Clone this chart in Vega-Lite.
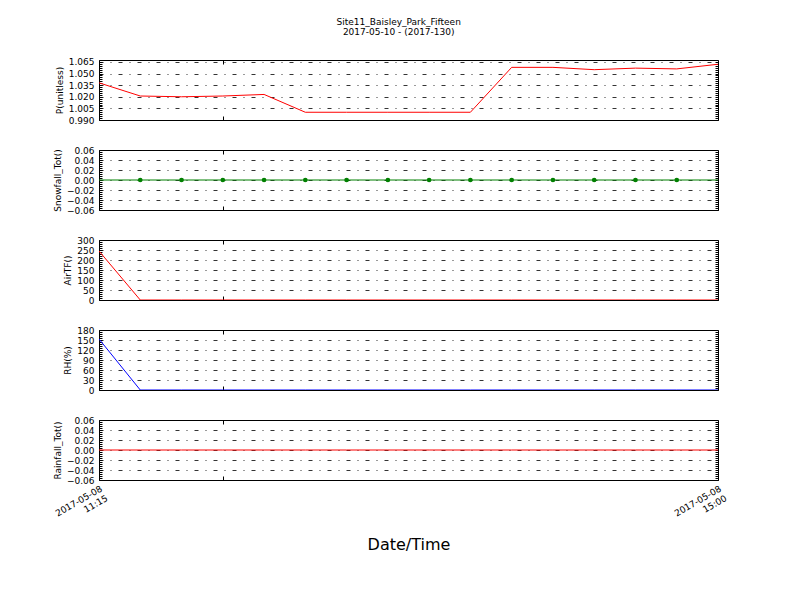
{
  "$schema": "https://vega.github.io/schema/vega-lite/v6.json",
  "padding": {"left": 52, "top": 18, "right": 5, "bottom": 5},
  "title": {"text": "Site11_Baisley_Park_Fifteen", "subtitle": "2017-05-10 - (2017-130)", "fontSize": 9, "subtitleFontSize": 9, "font": "DejaVu Sans", "subtitleFont": "DejaVu Sans", "fontWeight": "normal", "color": "black", "subtitleColor": "black", "anchor": "middle", "subtitlePadding": 1, "offset": 20, "dx": 8},
  "data": {"values": [
    {"t": "2017-05-08T11:15:00", "P": 1.038, "Snow": 0, "AirTF": 245, "RH": 153, "Rain": 0},
    {"t": "2017-05-08T11:30:00", "P": 1.021, "Snow": 0, "AirTF": 0, "RH": 0, "Rain": 0},
    {"t": "2017-05-08T11:45:00", "P": 1.020, "Snow": 0, "AirTF": 0, "RH": 0, "Rain": 0},
    {"t": "2017-05-08T12:00:00", "P": 1.021, "Snow": 0, "AirTF": 0, "RH": 0, "Rain": 0},
    {"t": "2017-05-08T12:15:00", "P": 1.023, "Snow": 0, "AirTF": 0, "RH": 0, "Rain": 0},
    {"t": "2017-05-08T12:30:00", "P": 1.000, "Snow": 0, "AirTF": 0, "RH": 0, "Rain": 0},
    {"t": "2017-05-08T12:45:00", "P": 1.000, "Snow": 0, "AirTF": 0, "RH": 0, "Rain": 0},
    {"t": "2017-05-08T13:00:00", "P": 1.000, "Snow": 0, "AirTF": 0, "RH": 0, "Rain": 0},
    {"t": "2017-05-08T13:15:00", "P": 1.000, "Snow": 0, "AirTF": 0, "RH": 0, "Rain": 0},
    {"t": "2017-05-08T13:30:00", "P": 1.000, "Snow": 0, "AirTF": 0, "RH": 0, "Rain": 0},
    {"t": "2017-05-08T13:45:00", "P": 1.058, "Snow": 0, "AirTF": 0, "RH": 0, "Rain": 0},
    {"t": "2017-05-08T14:00:00", "P": 1.058, "Snow": 0, "AirTF": 0, "RH": 0, "Rain": 0},
    {"t": "2017-05-08T14:15:00", "P": 1.055, "Snow": 0, "AirTF": 0, "RH": 0, "Rain": 0},
    {"t": "2017-05-08T14:30:00", "P": 1.057, "Snow": 0, "AirTF": 0, "RH": 0, "Rain": 0},
    {"t": "2017-05-08T14:45:00", "P": 1.056, "Snow": 0, "AirTF": 0, "RH": 0, "Rain": 0},
    {"t": "2017-05-08T15:00:00", "P": 1.062, "Snow": 0, "AirTF": 0, "RH": 0, "Rain": 0}
  ]},
  "config": {
    "view": {"stroke": "black", "strokeWidth": 1},
    "axis": {"labelFont": "DejaVu Sans", "titleFont": "DejaVu Sans", "labelFontSize": 9, "titleFontSize": 9, "titleFontWeight": "normal", "labelColor": "black", "titleColor": "black", "domain": false, "tickColor": "black", "tickWidth": 1, "gridColor": "black", "gridDash": [4, 7, 1, 7], "gridWidth": 0.8}
  },
  "spacing": 30,
  "bounds": "flush",
  "vconcat": [
    {
      "width": 619, "height": 60,
      "layer": [
        {"mark": {"type": "line", "color": "#ff0000", "strokeWidth": 1, "clip": true},
         "encoding": {
           "x": {"field": "t", "type": "temporal", "scale": {"domain": [{"year": 2017, "month": 5, "date": 8, "hours": 11, "minutes": 15}, {"year": 2017, "month": 5, "date": 8, "hours": 15, "minutes": 0}]},
                 "axis": {"orient": "bottom", "labels": false, "title": null, "grid": false, "tickSize": -4, "values": [{"year": 2017, "month": 5, "date": 8, "hours": 11, "minutes": 15}, {"year": 2017, "month": 5, "date": 8, "hours": 12, "minutes": 0}, {"year": 2017, "month": 5, "date": 8, "hours": 15, "minutes": 0}]}},
           "y": {"field": "P", "type": "quantitative", "scale": {"domain": [0.99, 1.0675], "nice": false, "zero": false},
                 "axis": {"title": "P(unitless)", "tickSize": -3, "labelPadding": 8, "titlePadding": 4,
                          "values": [0.99,0.9925,0.995,0.9975,1.0,1.0025,1.005,1.0075,1.01,1.0125,1.015,1.0175,1.02,1.0225,1.025,1.0275,1.03,1.0325,1.035,1.0375,1.04,1.0425,1.045,1.0475,1.05,1.0525,1.055,1.0575,1.06,1.0625,1.065,1.0675],
                          "labelExpr": "abs((datum.value-0.99)/0.015 - round((datum.value-0.99)/0.015)) < 0.001 ? format(datum.value, '.3f') : ''",
                          "gridOpacity": {"condition": {"test": "abs((datum.value-0.99)/0.015 - round((datum.value-0.99)/0.015)) < 0.001", "value": 1}, "value": 0}}}
         }},
        {"mark": {"type": "line", "strokeOpacity": 0},
         "encoding": {
           "x": {"field": "t", "type": "temporal", "axis": {"orient": "top", "labels": false, "title": null, "grid": false, "tickSize": -4, "values": [{"year": 2017, "month": 5, "date": 8, "hours": 12, "minutes": 0}]}},
           "y": {"field": "P", "type": "quantitative", "axis": {"orient": "right", "labels": false, "title": null, "grid": false, "tickSize": -3,
                 "values": [0.99,0.9925,0.995,0.9975,1.0,1.0025,1.005,1.0075,1.01,1.0125,1.015,1.0175,1.02,1.0225,1.025,1.0275,1.03,1.0325,1.035,1.0375,1.04,1.0425,1.045,1.0475,1.05,1.0525,1.055,1.0575,1.06,1.0625,1.065,1.0675]}}
         }}
      ],
      "resolve": {"axis": {"x": "independent", "y": "independent"}}
    },
    {
      "width": 619, "height": 60,
      "layer": [
        {"mark": {"type": "line", "color": "#008000", "strokeWidth": 1, "clip": true},
         "encoding": {
           "x": {"field": "t", "type": "temporal", "scale": {"domain": [{"year": 2017, "month": 5, "date": 8, "hours": 11, "minutes": 15}, {"year": 2017, "month": 5, "date": 8, "hours": 15, "minutes": 0}]},
                 "axis": {"orient": "bottom", "labels": false, "title": null, "grid": false, "tickSize": -4, "values": [{"year": 2017, "month": 5, "date": 8, "hours": 11, "minutes": 15}, {"year": 2017, "month": 5, "date": 8, "hours": 12, "minutes": 0}, {"year": 2017, "month": 5, "date": 8, "hours": 15, "minutes": 0}]}},
           "y": {"field": "Snow", "type": "quantitative", "scale": {"domain": [-0.06, 0.06], "nice": false, "zero": false},
                 "axis": {"title": "Snowfall_Tot()", "tickSize": -3, "labelPadding": 8, "titlePadding": 4,
                          "values": [-0.06,-0.056,-0.052,-0.048,-0.044,-0.04,-0.036,-0.032,-0.028,-0.024,-0.02,-0.016,-0.012,-0.008,-0.004,0,0.004,0.008,0.012,0.016,0.02,0.024,0.028,0.032,0.036,0.04,0.044,0.048,0.052,0.056,0.06],
                          "labelExpr": "abs(datum.value/0.02 - round(datum.value/0.02)) < 0.001 ? format(datum.value, '.2f') : ''",
                          "gridOpacity": {"condition": {"test": "abs(datum.value/0.02 - round(datum.value/0.02)) < 0.001", "value": 1}, "value": 0}}}
         }},
        {"transform": [{"filter": {"field": "t", "range": [{"year": 2017, "month": 5, "date": 8, "hours": 11, "minutes": 20}, {"year": 2017, "month": 5, "date": 8, "hours": 14, "minutes": 55}]}}],
         "mark": {"type": "point", "filled": true, "color": "#008000", "size": 22, "opacity": 1},
         "encoding": {
           "x": {"field": "t", "type": "temporal", "axis": {"orient": "top", "labels": false, "title": null, "grid": false, "tickSize": -4, "values": [{"year": 2017, "month": 5, "date": 8, "hours": 12, "minutes": 0}]}},
           "y": {"field": "Snow", "type": "quantitative", "axis": {"orient": "right", "labels": false, "title": null, "grid": false, "tickSize": -3,
                 "values": [-0.06,-0.056,-0.052,-0.048,-0.044,-0.04,-0.036,-0.032,-0.028,-0.024,-0.02,-0.016,-0.012,-0.008,-0.004,0,0.004,0.008,0.012,0.016,0.02,0.024,0.028,0.032,0.036,0.04,0.044,0.048,0.052,0.056,0.06]}}
         }}
      ],
      "resolve": {"axis": {"x": "independent", "y": "independent"}}
    },
    {
      "width": 619, "height": 60,
      "layer": [
        {"mark": {"type": "line", "color": "#ff0000", "strokeWidth": 1, "clip": true},
         "encoding": {
           "x": {"field": "t", "type": "temporal", "scale": {"domain": [{"year": 2017, "month": 5, "date": 8, "hours": 11, "minutes": 15}, {"year": 2017, "month": 5, "date": 8, "hours": 15, "minutes": 0}]},
                 "axis": {"orient": "bottom", "labels": false, "title": null, "grid": false, "tickSize": -4, "values": [{"year": 2017, "month": 5, "date": 8, "hours": 11, "minutes": 15}, {"year": 2017, "month": 5, "date": 8, "hours": 12, "minutes": 0}, {"year": 2017, "month": 5, "date": 8, "hours": 15, "minutes": 0}]}},
           "y": {"field": "AirTF", "type": "quantitative", "scale": {"domain": [0, 300], "nice": false},
                 "axis": {"title": "AirTF()", "tickSize": -3, "labelPadding": 8, "titlePadding": 4,
                          "values": [0,10,20,30,40,50,60,70,80,90,100,110,120,130,140,150,160,170,180,190,200,210,220,230,240,250,260,270,280,290,300],
                          "labelExpr": "datum.value % 50 == 0 ? format(datum.value, 'd') : ''",
                          "gridOpacity": {"condition": {"test": "datum.value % 50 == 0", "value": 1}, "value": 0}}}
         }},
        {"mark": {"type": "line", "strokeOpacity": 0},
         "encoding": {
           "x": {"field": "t", "type": "temporal", "axis": {"orient": "top", "labels": false, "title": null, "grid": false, "tickSize": -4, "values": [{"year": 2017, "month": 5, "date": 8, "hours": 12, "minutes": 0}]}},
           "y": {"field": "AirTF", "type": "quantitative", "axis": {"orient": "right", "labels": false, "title": null, "grid": false, "tickSize": -3,
                 "values": [0,10,20,30,40,50,60,70,80,90,100,110,120,130,140,150,160,170,180,190,200,210,220,230,240,250,260,270,280,290,300]}}
         }}
      ],
      "resolve": {"axis": {"x": "independent", "y": "independent"}}
    },
    {
      "width": 619, "height": 60,
      "layer": [
        {"mark": {"type": "line", "color": "#0000ff", "strokeWidth": 1, "clip": true},
         "encoding": {
           "x": {"field": "t", "type": "temporal", "scale": {"domain": [{"year": 2017, "month": 5, "date": 8, "hours": 11, "minutes": 15}, {"year": 2017, "month": 5, "date": 8, "hours": 15, "minutes": 0}]},
                 "axis": {"orient": "bottom", "labels": false, "title": null, "grid": false, "tickSize": -4, "values": [{"year": 2017, "month": 5, "date": 8, "hours": 11, "minutes": 15}, {"year": 2017, "month": 5, "date": 8, "hours": 12, "minutes": 0}, {"year": 2017, "month": 5, "date": 8, "hours": 15, "minutes": 0}]}},
           "y": {"field": "RH", "type": "quantitative", "scale": {"domain": [0, 180], "nice": false},
                 "axis": {"title": "RH(%)", "tickSize": -3, "labelPadding": 8, "titlePadding": 4,
                          "values": [0,6,12,18,24,30,36,42,48,54,60,66,72,78,84,90,96,102,108,114,120,126,132,138,144,150,156,162,168,174,180],
                          "labelExpr": "datum.value % 30 == 0 ? format(datum.value, 'd') : ''",
                          "gridOpacity": {"condition": {"test": "datum.value % 30 == 0", "value": 1}, "value": 0}}}
         }},
        {"mark": {"type": "line", "strokeOpacity": 0},
         "encoding": {
           "x": {"field": "t", "type": "temporal", "axis": {"orient": "top", "labels": false, "title": null, "grid": false, "tickSize": -4, "values": [{"year": 2017, "month": 5, "date": 8, "hours": 12, "minutes": 0}]}},
           "y": {"field": "RH", "type": "quantitative", "axis": {"orient": "right", "labels": false, "title": null, "grid": false, "tickSize": -3,
                 "values": [0,6,12,18,24,30,36,42,48,54,60,66,72,78,84,90,96,102,108,114,120,126,132,138,144,150,156,162,168,174,180]}}
         }}
      ],
      "resolve": {"axis": {"x": "independent", "y": "independent"}}
    },
    {
      "width": 619, "height": 60,
      "layer": [
        {"mark": {"type": "line", "color": "#ff0000", "strokeWidth": 1, "clip": true},
         "encoding": {
           "x": {"field": "t", "type": "temporal", "scale": {"domain": [{"year": 2017, "month": 5, "date": 8, "hours": 11, "minutes": 15}, {"year": 2017, "month": 5, "date": 8, "hours": 15, "minutes": 0}]},
                 "axis": {"orient": "bottom", "title": "Date/Time", "titleFontSize": 16, "titlePadding": 9, "grid": false, "tickSize": -4, "labelPadding": 8,
                          "labelAngle": -30, "labelAlign": "right", "labelBaseline": "top",
                          "labelExpr": "hours(datum.value) == 12 ? '' : [timeFormat(datum.value, '%Y-%m-%d'), timeFormat(datum.value, '%H:%M')]",
                          "values": [{"year": 2017, "month": 5, "date": 8, "hours": 11, "minutes": 15}, {"year": 2017, "month": 5, "date": 8, "hours": 12, "minutes": 0}, {"year": 2017, "month": 5, "date": 8, "hours": 15, "minutes": 0}]}},
           "y": {"field": "Rain", "type": "quantitative", "scale": {"domain": [-0.06, 0.06], "nice": false, "zero": false},
                 "axis": {"title": "Rainfall_Tot()", "tickSize": -3, "labelPadding": 8, "titlePadding": 4,
                          "values": [-0.06,-0.056,-0.052,-0.048,-0.044,-0.04,-0.036,-0.032,-0.028,-0.024,-0.02,-0.016,-0.012,-0.008,-0.004,0,0.004,0.008,0.012,0.016,0.02,0.024,0.028,0.032,0.036,0.04,0.044,0.048,0.052,0.056,0.06],
                          "labelExpr": "abs(datum.value/0.02 - round(datum.value/0.02)) < 0.001 ? format(datum.value, '.2f') : ''",
                          "gridOpacity": {"condition": {"test": "abs(datum.value/0.02 - round(datum.value/0.02)) < 0.001", "value": 1}, "value": 0}}}
         }},
        {"mark": {"type": "line", "strokeOpacity": 0},
         "encoding": {
           "x": {"field": "t", "type": "temporal", "axis": {"orient": "top", "labels": false, "title": null, "grid": false, "tickSize": -4, "values": [{"year": 2017, "month": 5, "date": 8, "hours": 12, "minutes": 0}]}},
           "y": {"field": "Rain", "type": "quantitative", "axis": {"orient": "right", "labels": false, "title": null, "grid": false, "tickSize": -3,
                 "values": [-0.06,-0.056,-0.052,-0.048,-0.044,-0.04,-0.036,-0.032,-0.028,-0.024,-0.02,-0.016,-0.012,-0.008,-0.004,0,0.004,0.008,0.012,0.016,0.02,0.024,0.028,0.032,0.036,0.04,0.044,0.048,0.052,0.056,0.06]}}
         }}
      ],
      "resolve": {"axis": {"x": "independent", "y": "independent"}}
    }
  ]
}
